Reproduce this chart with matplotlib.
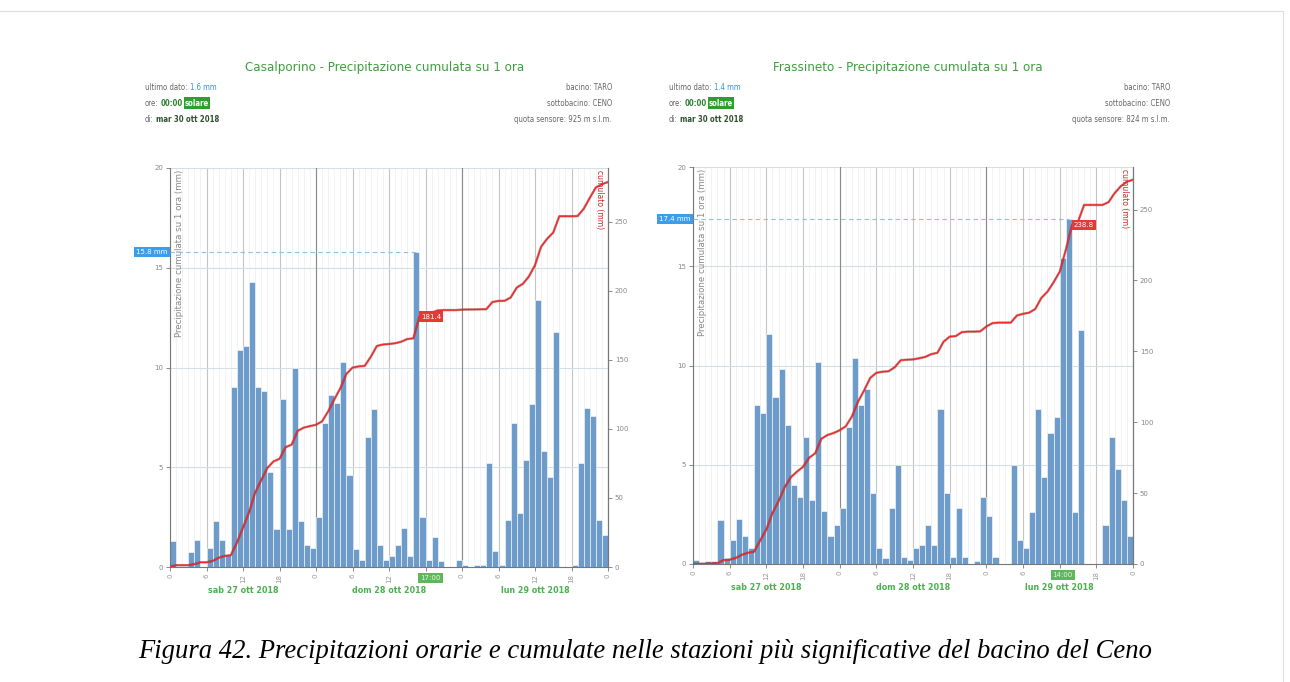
import numpy as np
import matplotlib.pyplot as plt
from matplotlib import font_manager
from matplotlib.font_manager import FontProperties

# hourly rain (mm), 72 hours from sab 27 ott 2018 00:00
casal_mm = [1.3, 0, 0, 0.75, 1.35, 0, 0.95, 2.3, 1.35, 0.6,
            9.0, 10.9, 11.1, 14.3, 9.0, 8.8, 4.75, 1.9, 8.4, 1.9,
            10.0, 2.3, 1.1, 0.95, 2.5, 7.2, 8.6, 8.2, 10.3, 4.6,
            0.9, 0.35, 6.5, 7.9, 1.1, 0.37, 0.53, 1.1, 1.95, 0.53,
            15.8, 2.5, 0.37, 1.5, 0.28, 0, 0, 0.35, 0.1, 0,
            0.1, 0.1, 5.2, 0.8, 0.1, 2.35, 7.2, 2.7, 5.35, 8.15,
            13.4, 5.8, 4.5, 11.8, 0, 0, 0.1, 5.2, 7.95, 7.55,
            2.35, 1.6]
frass_mm = [0.2, 0.05, 0.15, 0.15, 2.2, 0.3, 1.2, 2.25, 1.4, 0.8,
            8.0, 7.6, 11.6, 8.4, 9.8, 7.0, 4.0, 3.4, 6.4, 3.2,
            10.2, 2.65, 1.4, 1.97, 2.8, 6.9, 10.4, 8.0, 8.8, 3.6,
            0.8, 0.3, 2.8, 5.0, 0.37, 0.2, 0.8, 0.95, 1.97, 0.95,
            7.8, 3.6, 0.37, 2.8, 0.37, 0, 0.17, 3.4, 2.4, 0.37,
            0, 0, 5.0, 1.2, 0.8, 2.6, 7.8, 4.4, 6.6, 7.4,
            15.4, 17.4, 2.6, 11.8, 0, 0, 0, 1.97, 6.4, 4.8,
            3.2, 1.4]

stations = ['Casalporino', 'Frassineto']
quote = ['925', '824']
hour_ticks = list(range(0, 73, 6))
hour_labels = ['0', '6', '12', '18'] * 3 + ['0']
day_labels = ['sab 27 ott 2018', 'dom 28 ott 2018', 'lun 29 ott 2018']
day_pos = [12, 36, 60]
mm_ticks = [0, 5, 10, 15, 20]
cum_ticks = [0, 50, 100, 150, 200, 250]
cum_top = [289, 280]
caption = ('Figura 42. Precipitazioni orarie e cumulate nelle stazioni più '
           'significative del bacino del Ceno')

W, H = 1290, 682
fig = plt.figure(figsize=(W / 100, H / 100), dpi=100)
renderer = fig.canvas.get_renderer()

GREEN = '#3f9e3f'
GRAY = '#666666'


def find_narrow(bold=False):
    # look for a condensed / narrow sans font among the installed ones
    fonts = font_manager.fontManager.ttflist
    for f in fonts:
        w = f.weight if isinstance(f.weight, int) else (700 if f.weight == 'bold' else 400)
        if f.style != 'normal' or (w >= 600) != bold:
            continue
        if 'Narrow' in f.name or f.stretch in ('condensed', 'semi-condensed'):
            return f.fname
    return None


narrow_path = find_narrow()
narrow_bold_path = find_narrow(bold=True)


def narrow(size, bold=False):
    path = narrow_bold_path if bold else narrow_path
    if path:
        return FontProperties(fname=path, size=size)
    # no condensed face installed: Liberation Sans a bit smaller
    return FontProperties(family='Liberation Sans', size=size * 0.85,
                          weight='bold' if bold else 'normal')


def fx(px):
    return px / W


def fy(py):
    return 1 - py / H


def chain(px, py, parts, size=5.6):
    # write pieces of text one after the other on a line
    x = fx(px)
    for s, kw in parts:
        bold = kw.pop('bold', False)
        t = fig.text(x, fy(py), s, va='center', ha='left',
                     fontproperties=narrow(size, bold), **kw)
        bb = t.get_window_extent(renderer)
        x = (bb.x1 + 2) / W


def draw_chart(box, name, quota, mm, top, hdr, tlab_pos):
    x0, y0, x1, y1 = box
    mm = np.array(mm)
    hours = np.arange(len(mm))
    cum = np.concatenate([[0], np.cumsum(mm)])
    peak = int(np.argmax(mm))

    # header
    fig.text(fx(hdr[0]), fy(68), f'{name} - Precipitazione cumulata su 1 ora',
             ha='center', va='center', color=GREEN, fontproperties=narrow(9.5))
    chain(hdr[1], 88, [('ultimo dato:', dict(color=GRAY)),
                       (f'{mm[-1]:.1f} mm', dict(color='#3a8fd9'))])
    chain(hdr[1], 103, [('ore:', dict(color=GRAY)),
                        ('00:00', dict(color='#2e7d32', bold=True)),
                        ('solare', dict(color='white', bold=True,
                                        bbox=dict(boxstyle='square,pad=0.15',
                                                  fc='#2e9e2e', ec='none')))])
    chain(hdr[1], 119, [('di:', dict(color=GRAY)),
                        ('mar 30 ott 2018', dict(color='#2f4f2f', bold=True))])
    for py, s in zip([88, 103, 119], ['bacino: TARO', 'sottobacino: CENO',
                                      f'quota sensore: {quota} m s.l.m.']):
        fig.text(fx(hdr[2]), fy(py), s, ha='right', va='center',
                 color=GRAY, fontproperties=narrow(5.6))

    ax = fig.add_axes([fx(x0), fy(y1), fx(x1 - x0), (y1 - y0) / H])
    ax.set_axisbelow(True)
    ax.bar(hours, mm, width=1.0, align='edge', color='#6d9cca',
           edgecolor='white', linewidth=0.4, zorder=2)
    ax.set_xlim(0, 72)
    ax.set_ylim(0, 20)

    t_lab = f'{(peak + 1) % 24:02d}:00'
    covered = [abs(h - tlab_pos) < 2.5 for h in hour_ticks]
    ax.set_xticks(hour_ticks)
    ax.set_xticklabels(['' if c else l for c, l in zip(covered, hour_labels)],
                       rotation=90, fontsize=5, color='#999999')
    ax.set_xticks(np.arange(73), minor=True)
    ax.set_yticks(mm_ticks)
    ax.set_yticklabels([str(v) for v in mm_ticks], fontsize=5, color='#888888')
    ax.tick_params(axis='both', which='major', length=3, width=0.6, color='#777777', pad=2)
    ax.tick_params(axis='x', which='minor', length=0)
    ax.grid(axis='x', which='minor', color='#efefef', lw=0.5)
    ax.grid(axis='x', which='major', color='#c4c4c4', lw=0.8)
    ax.grid(axis='y', which='major', color='#d6dde3', lw=0.8)
    for d in (24, 48):
        ax.axvline(d, color='#8a8a8a', lw=0.8, zorder=1)
    for s in ['left', 'right', 'bottom']:
        ax.spines[s].set_color('#777777')
        ax.spines[s].set_linewidth(0.8)
    ax.spines['top'].set_visible(False)

    ax.text(0.012, 0.995, 'Precipitazione cumulata su 1 ora (mm)',
            transform=ax.transAxes, rotation=90, ha='left', va='top',
            fontsize=6.2, color='#888888')

    # max of the period
    ax.hlines(mm[peak], 0, peak + 0.5, colors='#8ec1e8', linestyles=(0, (4, 3)),
              lw=0.8, zorder=3)
    ax.text(-0.4, mm[peak], f'{mm[peak]:.1f} mm', ha='right', va='center',
            fontsize=5, color='white', clip_on=False,
            bbox=dict(boxstyle='square,pad=0.3', fc='#3b9ded', ec='none'))
    ax.text(tlab_pos, -0.028, t_lab, transform=ax.get_xaxis_transform(),
            ha='center', va='center', fontsize=5, color='#e8f5e0', clip_on=False,
            bbox=dict(boxstyle='square,pad=0.3', fc='#5cb85c', ec='none'))
    for pos, lab in zip(day_pos, day_labels):
        ax.text(pos, -0.058, lab, transform=ax.get_xaxis_transform(),
                ha='center', va='center', color='#4caf50',
                fontproperties=narrow(6.4, bold=True))

    ax2 = ax.twinx()
    ax2.plot(np.arange(len(cum)), cum, color='#7a1414', lw=1.8, alpha=0.45)
    ax2.plot(np.arange(len(cum)), cum, color='#ee2a2a', lw=1.0)
    ax2.set_ylim(0, top)
    ax2.set_yticks(cum_ticks)
    ax2.set_yticklabels([str(v) for v in cum_ticks], fontsize=5, color='#888888')
    ax2.tick_params(axis='y', length=3, width=0.6, color='#777777', pad=2)
    for s in ['left', 'top', 'bottom']:
        ax2.spines[s].set_visible(False)
    ax2.spines['right'].set_color('#777777')
    ax2.spines['right'].set_linewidth(0.8)
    ax2.text(0.99, 0.995, 'cumulato (mm)', transform=ax2.transAxes,
             rotation=270, ha='right', va='top', fontsize=5.5, color='#c62828')
    ax2.text(peak + 1.3, cum[peak + 1], f'{cum[peak + 1]:.1f}', ha='left',
             va='center', fontsize=5, color='white',
             bbox=dict(boxstyle='square,pad=0.3', fc='#e53935', ec='none'))


draw_chart((170, 168, 608, 567), stations[0], quote[0], casal_mm, cum_top[0],
           (385, 145, 612), 42.8)
draw_chart((693, 167, 1133, 564), stations[1], quote[1], frass_mm, cum_top[1],
           (908, 669, 1170), 60.5)

fig.text(0.5, fy(651), caption, ha='center', va='center', fontsize=19.2,
         style='italic', family=['Liberation Serif', 'DejaVu Serif'])

# thin frame: top and right edges
fig.add_artist(plt.Line2D([0, fx(1283), fx(1283)], [fy(11), fy(11), 0],
                          transform=fig.transFigure, color='#dddddd', lw=0.8))

fig.savefig('out.png', dpi=100)
